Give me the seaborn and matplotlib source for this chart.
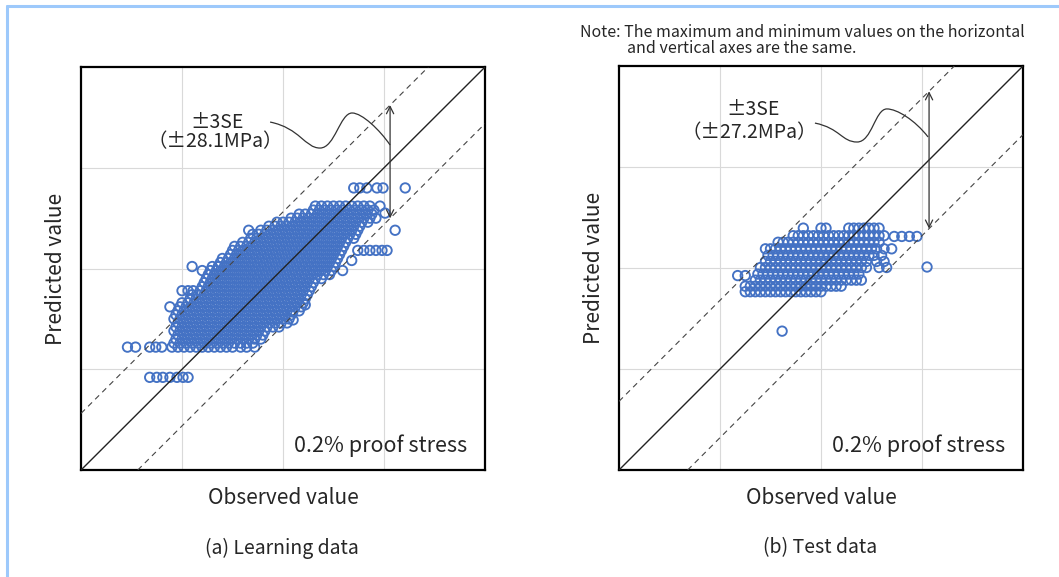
import pandas as pd
import seaborn as sns
import matplotlib.pyplot as plt
from matplotlib.path import Path
from matplotlib.patches import PathPatch
from matplotlib.lines import Line2D

# ---- (a) learning data: predicted levels (MPa) and observed values in each level ----
learn_pred_rows = [161, 163, 165, 167, 169, 171, 173, 175, 177, 179, 181, 183,
                   185, 187, 189, 191, 193, 195, 197, 199, 201, 203, 205, 207,
                   209, 211, 213, 215, 217, 219, 221, 223, 225, 227, 229, 231]
learn_obs_rows = [
    [145, 148, 151, 154, 157, 160, 163, 166, 169, 172, 175],
    [146, 149, 152, 155, 158, 161, 164, 167, 170, 173, 176, 179, 182, 185],
    [147, 150, 153, 156, 159, 162, 165, 168, 171, 174, 177, 180, 183, 186, 189],
    [148, 151, 154, 157, 160, 163, 166, 169, 172, 175, 178, 181, 184, 187, 190],
    [146, 149, 152, 155, 158, 161, 164, 167, 170, 173, 176, 179, 182, 185, 188, 191],
    [147, 150, 153, 156, 159, 162, 165, 168, 171, 174, 177, 180, 183, 186, 189, 192, 195, 198],
    [148, 151, 154, 157, 160, 163, 166, 169, 172, 175, 178, 181, 184, 187, 190, 193, 196, 199, 202],
    [146, 149, 152, 155, 158, 161, 164, 167, 170, 173, 176, 179, 182, 185, 188, 191, 194, 197, 200, 203],
    [147, 150, 153, 156, 159, 162, 165, 168, 171, 174, 177, 180, 183, 186, 189, 192, 195, 198, 201, 204],
    [148, 151, 154, 157, 160, 163, 166, 169, 172, 175, 178, 181, 184, 187, 190, 193, 196, 199, 202, 205, 208],
    [149, 152, 155, 158, 161, 164, 167, 170, 173, 176, 179, 182, 185, 188, 191, 194, 197, 200, 203, 206, 209],
    [150, 153, 156, 159, 162, 165, 168, 171, 174, 177, 180, 183, 186, 189, 192, 195, 198, 201, 204, 207, 210],
    [154, 157, 160, 163, 166, 169, 172, 175, 178, 181, 184, 187, 190, 193, 196, 199, 202, 205, 208, 211],
    [155, 158, 161, 164, 167, 170, 173, 176, 179, 182, 185, 188, 191, 194, 197, 200, 203, 206, 209, 212],
    [159, 162, 165, 168, 171, 174, 177, 180, 183, 186, 189, 192, 195, 198, 201, 204, 207, 210, 213],
    [160, 163, 166, 169, 172, 175, 178, 181, 184, 187, 190, 193, 196, 199, 202, 205, 208, 211, 214],
    [161, 164, 167, 170, 173, 176, 179, 182, 185, 188, 191, 194, 197, 200, 203, 206, 209, 212, 215],
    [162, 165, 168, 171, 174, 177, 180, 183, 186, 189, 192, 195, 198, 201, 204, 207, 210, 213, 216, 219],
    [163, 166, 169, 172, 175, 178, 181, 184, 187, 190, 193, 196, 199, 202, 205, 208, 211, 214, 217, 220, 223],
    [164, 167, 170, 173, 176, 179, 182, 185, 188, 191, 194, 197, 200, 203, 206, 209, 212, 215, 218, 221, 224],
    [165, 168, 171, 174, 177, 180, 183, 186, 189, 192, 195, 198, 201, 204, 207, 210, 213, 216, 219, 222, 225],
    [169, 172, 175, 178, 181, 184, 187, 190, 193, 196, 199, 202, 205, 208, 211, 214, 217, 220, 223, 226],
    [170, 173, 176, 179, 182, 185, 188, 191, 194, 197, 200, 203, 206, 209, 212, 215, 218, 221, 224, 227],
    [174, 177, 180, 183, 186, 189, 192, 195, 198, 201, 204, 207, 210, 213, 216, 219, 222, 225, 228],
    [175, 178, 181, 184, 187, 190, 193, 196, 199, 202, 205, 208, 211, 214, 217, 220, 223, 226, 229],
    [176, 179, 182, 185, 188, 191, 194, 197, 200, 203, 206, 209, 212, 215, 218, 221, 224, 227, 230],
    [180, 183, 186, 189, 192, 195, 198, 201, 204, 207, 210, 213, 216, 219, 222, 225, 228, 231],
    [184, 187, 190, 193, 196, 199, 202, 205, 208, 211, 214, 217, 220, 223, 226, 229, 232, 235],
    [185, 188, 191, 194, 197, 200, 203, 206, 209, 212, 215, 218, 221, 224, 227, 230, 233, 236],
    [189, 192, 195, 198, 201, 204, 207, 210, 213, 216, 219, 222, 225, 228, 231, 234, 237],
    [193, 196, 199, 202, 205, 208, 211, 214, 217, 220, 223, 226, 229, 232, 235, 238],
    [197, 200, 203, 206, 209, 212, 215, 218, 221, 224, 227, 230, 233, 236, 239, 242],
    [204, 207, 210, 213, 216, 219, 222, 225, 228, 231, 234, 237, 240, 243, 246],
    [208, 211, 214, 217, 220, 223, 226, 229, 232, 235, 238, 241, 244],
    [215, 218, 221, 224, 227, 230, 233, 236, 239, 242, 245],
    [216, 219, 222, 225, 228, 231, 234, 237, 240, 243],
]
# scattered points around the main cloud
learn_extra_obs = [134, 137.5, 140.5, 144, 147.5, 150.5, 153,
                   123, 127, 134, 137, 140, 179, 182, 186,
                   144, 150, 153, 155.5, 155, 160, 168, 183,
                   235, 238, 241.5, 246.5, 249.5, 260.5, 255.5,
                   237, 240, 243, 246, 249, 251.5, 234, 229.5,
                   211, 204.5, 205, 248, 250.5]
learn_extra_pred = [146, 146, 146, 146, 146, 146, 146,
                    161, 161, 161, 161, 161, 161, 161, 161,
                    181, 189, 189, 189, 201, 199, 201, 219,
                    240, 240, 240, 240, 240, 240, 219,
                    209, 209, 209, 209, 209, 209, 204, 199,
                    182, 178.5, 174.5, 231, 227.5]

# ---- (b) test data ----
test_pred_rows = [255.8, 252.8, 250.2, 247.6, 245.0, 242.6, 240.2, 237.6, 235.2, 232.8, 230.6]
test_obs_rows = [
    [233, 240, 242, 251, 253, 255, 257, 259, 261, 263],
    [229, 231, 233, 235, 237, 239, 241, 243, 245, 247, 249, 251, 253, 255, 257, 259, 261, 263, 265],
    [223, 225, 227, 229, 231, 233, 235, 237, 239, 241, 243, 245, 247, 249, 251, 253, 255, 257, 259, 261, 263],
    [218, 220, 222, 224, 226, 228, 230, 232, 234, 236, 238, 240, 242, 244, 246, 248, 250, 252, 254, 256, 258, 260, 262],
    [219, 221, 223, 225, 227, 229, 231, 233, 235, 237, 239, 241, 243, 245, 247, 249, 251, 253, 255, 257, 259, 261],
    [218, 220, 222, 224, 226, 228, 230, 232, 234, 236, 238, 240, 242, 244, 246, 248, 250, 252, 254, 256, 258],
    [216, 218, 220, 222, 224, 226, 228, 230, 232, 234, 236, 238, 240, 242, 244, 246, 248, 250, 252, 254, 256, 258],
    [215, 217, 219, 221, 223, 225, 227, 229, 231, 233, 235, 237, 239, 241, 243, 245, 247, 249, 251, 253, 255],
    [214, 216, 218, 220, 222, 224, 226, 228, 230, 232, 234, 236, 238, 240, 242, 244, 246, 248, 250, 252, 254, 256],
    [210, 212, 214, 216, 218, 220, 222, 224, 226, 228, 230, 232, 234, 236, 238, 240, 242, 244, 246, 248],
    [210, 212, 214, 216, 218, 220, 222, 224, 226, 228, 230, 232, 234, 236, 238, 240],
]
test_extra_obs = [269, 272, 275, 278, 265, 268, 264, 262, 265, 263, 266, 282, 207, 210, 224.6]
test_extra_pred = [252.5, 252.5, 252.5, 252.5, 247.6, 247.6, 245, 242.6, 242.6,
                   240.2, 240.2, 240.4, 237, 237, 215]

BLUE = '#4472C4'


def to_frame(obs_rows, pred_rows, extra_obs, extra_pred):
    obs = [x for row in obs_rows for x in row] + extra_obs
    pred = [y for row, y in zip(obs_rows, pred_rows) for _ in row] + extra_pred
    return pd.DataFrame({'Observed': obs, 'Predicted': pred})


learn_df = to_frame(learn_obs_rows, learn_pred_rows, learn_extra_obs, learn_extra_pred)
test_df = to_frame(test_obs_rows, test_pred_rows, test_extra_obs, test_extra_pred)

sns.set_style("white")
plt.rcParams['font.family'] = ['Noto Sans CJK JP', 'DejaVu Sans']

fig = plt.figure(figsize=(10.59, 5.77), dpi=100)
ax_a = fig.add_axes([0.0765, 0.1854, 0.3815, 0.6984])
ax_b = fig.add_axes([0.5845, 0.1854, 0.3815, 0.7002])


def draw_panel(ax, df, lim, ticks, se3, se_text, arrow_x, curve):
    sns.scatterplot(data=df, x='Observed', y='Predicted', ax=ax, marker='o', s=46,
                    color=BLUE, facecolor='none', edgecolor=BLUE, linewidth=1.35, zorder=2)
    ax.set_xlim(lim)
    ax.set_ylim(lim)
    ax.set_xticks(ticks)
    ax.set_yticks(ticks)
    ax.grid(True, color='#d9d9d9', lw=0.8)
    ax.set_axisbelow(True)
    ax.tick_params(length=0, labelbottom=False, labelleft=False)
    for s in ax.spines.values():
        s.set_linewidth(1.6)
        s.set_color('black')
    # 1:1 line and +-3SE band
    ax.axline((lim[0], lim[0]), slope=1, color='#222222', lw=1.0, zorder=3)
    for off in (se3, -se3):
        ax.axline((lim[0], lim[0] + off), slope=1, color='#444444', lw=0.8,
                  ls=(0, (5, 4)), zorder=3)
    ax.annotate('', xy=(arrow_x, arrow_x + se3), xytext=(arrow_x, arrow_x - se3),
                arrowprops=dict(arrowstyle='<->', color='#333333', lw=0.9,
                                mutation_scale=13, shrinkA=0, shrinkB=0), zorder=4)
    codes = [Path.MOVETO] + [Path.CURVE4] * 9
    ax.add_patch(PathPatch(Path(curve, codes), fill=False, color='#333333', lw=0.9, zorder=4))
    ax.text(*se_text[0], '±3SE', ha='center', va='center', fontsize=14)
    ax.text(*se_text[1], se_text[2], ha='center', va='center', fontsize=14)
    ax.text(0.955, 0.045, '0.2% proof stress', transform=ax.transAxes,
            ha='right', va='baseline', fontsize=15.5)
    ax.set_xlabel('Observed value', fontsize=15, labelpad=12)
    ax.set_ylabel('Predicted value', fontsize=15, labelpad=10)


draw_panel(ax_a, learn_df, (100, 300), [150, 200, 250], 28.1,
           [(167.3, 272.7), (166.5, 263.2), '（±28.1MPa）'], 253,
           [(193.6, 272.7), (208.4, 269.7), (210.9, 259.8), (218.3, 259.8),
            (225.7, 259.8), (228.2, 277.2), (234.2, 277.2),
            (239.1, 277.2), (248.0, 268.7), (253.0, 261.3)])
draw_panel(ax_b, test_df, (160, 320), [200, 240, 280], 27.2,
           [(213.0, 302.6), (211.5, 293.5), '（±27.2MPa）'], 282.8,
           [(237.6, 297.4), (247.5, 295.4), (248.3, 289.9), (254.3, 289.9),
            (260.2, 289.9), (261.4, 303.0), (266.1, 303.0),
            (270.1, 303.0), (277.2, 298.6), (282.4, 291.9)])

fig.text(0.2663, 0.0503, '(a) Learning data', ha='center', va='center', fontsize=14)
fig.text(0.7743, 0.0503, '(b) Test data', ha='center', va='center', fontsize=14)
fig.text(0.5477, 0.9445, 'Note: The maximum and minimum values on the horizontal',
         ha='left', va='center', fontsize=11.5)
fig.text(0.5925, 0.9168, 'and vertical axes are the same.', ha='left', va='center', fontsize=11.5)

# light blue frame on the top and left edges
fig.add_artist(Line2D([7 / 1059, 7 / 1059], [0, 1 - 6 / 577], transform=fig.transFigure,
                      color='#9dc9fb', lw=2.2))
fig.add_artist(Line2D([7 / 1059, 1], [1 - 6 / 577, 1 - 6 / 577], transform=fig.transFigure,
                      color='#9dc9fb', lw=2.2))

fig.savefig('out.png', dpi=100)
